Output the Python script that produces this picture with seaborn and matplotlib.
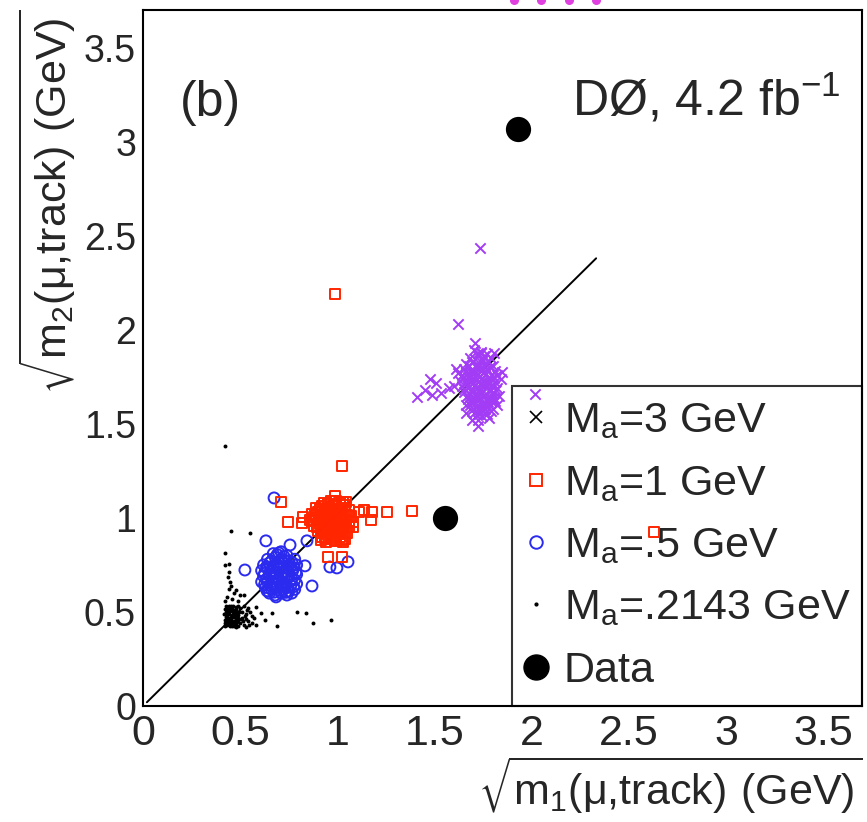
import matplotlib
matplotlib.use("Agg")
import matplotlib.pyplot as plt
import seaborn as sns
from matplotlib.lines import Line2D
from matplotlib.ticker import MultipleLocator

# sqrt(m) pairs per signal sample (GeV)
m3_x = [1.70, 1.74, 1.77, 1.68, 1.72, 1.75, 1.79, 1.66, 1.69, 1.73, 1.76, 1.80,
        1.65, 1.68, 1.71, 1.74, 1.77, 1.81, 1.64, 1.67, 1.70, 1.73, 1.76, 1.79, 1.82,
        1.63, 1.66, 1.69, 1.72, 1.75, 1.78, 1.81, 1.64, 1.67, 1.70, 1.73, 1.76, 1.79, 1.82,
        1.65, 1.68, 1.71, 1.74, 1.77, 1.80, 1.67, 1.70, 1.73, 1.76, 1.79,
        1.68, 1.71, 1.74, 1.77, 1.80, 1.70, 1.73, 1.76, 1.72,
        1.62, 1.84, 1.60, 1.83, 1.66, 1.82, 1.69, 1.78,
        1.72, 1.755, 1.705, 1.735, 1.775, 1.675, 1.715, 1.745, 1.785,
        1.66, 1.695, 1.725, 1.755, 1.795, 1.645, 1.685, 1.715, 1.745, 1.775, 1.805,
        1.655, 1.685, 1.705, 1.735, 1.765, 1.795, 1.65, 1.69, 1.72, 1.75, 1.785, 1.815,
        1.665, 1.695, 1.725, 1.755, 1.79, 1.685, 1.715, 1.745, 1.775, 1.81,
        1.695, 1.725, 1.76, 1.79, 1.715, 1.745, 1.77,
        1.733, 1.620, 1.707, 1.738, 1.805, 1.609, 1.846, 1.476, 1.506, 1.450,
        1.486, 1.409, 1.532, 1.573, 1.661, 1.722, 1.769, 1.805, 1.738, 2.015]
m3_y = [1.89, 1.88, 1.87, 1.85, 1.86, 1.84, 1.85, 1.82, 1.83, 1.81, 1.82, 1.81,
        1.79, 1.78, 1.80, 1.78, 1.79, 1.78, 1.76, 1.75, 1.77, 1.75, 1.76, 1.74, 1.76,
        1.73, 1.72, 1.74, 1.72, 1.73, 1.71, 1.72, 1.70, 1.69, 1.70, 1.68, 1.70, 1.68, 1.69,
        1.67, 1.66, 1.65, 1.66, 1.64, 1.66, 1.63, 1.62, 1.63, 1.61, 1.62,
        1.60, 1.59, 1.58, 1.59, 1.58, 1.56, 1.55, 1.56, 1.52,
        1.77, 1.74, 1.70, 1.65, 1.60, 1.60, 1.52, 1.53,
        1.875, 1.86, 1.845, 1.835, 1.83, 1.81, 1.815, 1.80, 1.80,
        1.775, 1.785, 1.765, 1.775, 1.76, 1.745, 1.755, 1.74, 1.745, 1.73, 1.745,
        1.715, 1.72, 1.705, 1.71, 1.72, 1.705, 1.685, 1.68, 1.69, 1.675, 1.685, 1.68,
        1.65, 1.645, 1.655, 1.65, 1.64, 1.615, 1.62, 1.605, 1.615, 1.62,
        1.58, 1.575, 1.58, 1.57, 1.545, 1.54, 1.55,
        2.436, 2.032, 1.931, 1.878, 1.878, 1.793, 1.777, 1.739, 1.718, 1.681,
        1.654, 1.644, 1.665, 1.691, 1.559, 1.489, 1.628, 1.638, 1.574, 1.660]

m1_x = [0.93, 0.97, 1.01, 1.04, 0.89, 0.92, 0.95, 0.98, 1.02, 1.06,
        0.87, 0.90, 0.93, 0.96, 0.99, 1.03, 1.07, 0.86, 0.89, 0.92, 0.95, 0.98, 1.01, 1.04, 1.08,
        0.88, 0.91, 0.94, 0.97, 1.00, 1.03, 1.06, 0.90, 0.93, 0.96, 0.99, 1.02, 1.05,
        0.92, 0.95, 0.98, 1.01, 1.04, 0.94, 0.99, 1.03,
        0.95, 0.99, 1.03, 0.91, 0.935, 0.965, 1.00, 1.04,
        0.885, 0.915, 0.945, 0.975, 1.01, 1.05, 0.875, 0.905, 0.935, 0.965, 0.995, 1.025, 1.06,
        0.895, 0.925, 0.955, 0.985, 1.015, 1.045, 0.915, 0.945, 0.975, 1.005, 1.035,
        0.935, 0.965, 1.02,
        0.987, 1.023, 0.710, 0.746, 0.823, 0.817, 0.987, 0.992, 1.044, 1.111,
        1.136, 1.177, 1.172, 1.254, 1.383, 1.080, 0.915, 0.951, 1.023, 2.627]
m1_y = [1.08, 1.09, 1.08, 1.07, 1.05, 1.06, 1.05, 1.06, 1.05, 1.04,
        1.02, 1.03, 1.02, 1.03, 1.02, 1.02, 1.01, 0.99, 1.00, 0.99, 1.00, 0.99, 1.00, 0.99, 0.98,
        0.96, 0.97, 0.96, 0.97, 0.96, 0.96, 0.95, 0.93, 0.94, 0.93, 0.94, 0.93, 0.92,
        0.90, 0.91, 0.90, 0.90, 0.89, 0.87, 0.88, 0.87,
        1.075, 1.07, 1.085, 1.045, 1.04, 1.045, 1.04, 1.045,
        1.015, 1.01, 1.015, 1.01, 1.015, 1.015, 0.985, 0.99, 0.985, 0.99, 0.985, 0.99, 0.985,
        0.955, 0.95, 0.955, 0.95, 0.95, 0.955, 0.92, 0.925, 0.92, 0.915, 0.92,
        0.895, 0.89, 0.885,
        2.191, 1.277, 1.085, 0.979, 1.005, 0.973, 1.117, 1.090, 1.085, 1.032,
        1.043, 1.032, 0.989, 1.032, 1.037, 0.952, 0.883, 0.793, 0.793, 0.926]

m05_x = [0.67, 0.71, 0.74, 0.64, 0.68, 0.71, 0.75, 0.78, 0.62, 0.65, 0.69, 0.72, 0.76, 0.79,
         0.61, 0.64, 0.67, 0.70, 0.73, 0.77, 0.79, 0.62, 0.65, 0.68, 0.71, 0.74, 0.78,
         0.61, 0.64, 0.67, 0.70, 0.73, 0.76, 0.79, 0.63, 0.66, 0.69, 0.72, 0.75, 0.78,
         0.65, 0.68, 0.71, 0.74,
         0.69, 0.725, 0.66, 0.695, 0.73, 0.765, 0.635, 0.67, 0.705, 0.745, 0.775,
         0.625, 0.655, 0.685, 0.715, 0.75, 0.785, 0.635, 0.665, 0.695, 0.725, 0.765,
         0.625, 0.655, 0.685, 0.715, 0.745, 0.775, 0.645, 0.675, 0.705, 0.735, 0.765,
         0.674, 0.632, 0.756, 0.843, 0.524, 0.833, 0.869, 0.638, 0.684, 0.735,
         0.961, 0.997, 1.054, 0.699]
m05_y = [0.81, 0.82, 0.80, 0.78, 0.79, 0.78, 0.77, 0.78, 0.75, 0.76, 0.75, 0.76, 0.74, 0.75,
         0.72, 0.73, 0.72, 0.73, 0.71, 0.72, 0.70, 0.69, 0.70, 0.68, 0.69, 0.68, 0.67,
         0.66, 0.66, 0.65, 0.66, 0.65, 0.64, 0.65, 0.63, 0.62, 0.63, 0.62, 0.61, 0.62,
         0.60, 0.59, 0.60, 0.59,
         0.805, 0.795, 0.77, 0.765, 0.775, 0.765, 0.74, 0.745, 0.74, 0.745, 0.735,
         0.705, 0.715, 0.705, 0.71, 0.70, 0.71, 0.675, 0.685, 0.675, 0.68, 0.675,
         0.645, 0.64, 0.645, 0.64, 0.63, 0.635, 0.61, 0.605, 0.615, 0.605, 0.60,
         1.106, 0.878, 0.856, 0.878, 0.723, 0.745, 0.638, 0.612, 0.580, 0.606,
         0.739, 0.734, 0.766, 0.814]

m02_x = [0.420, 0.431, 0.445, 0.457, 0.466, 0.479, 0.488, 0.424, 0.436, 0.449, 0.460, 0.472, 0.483,
         0.421, 0.433, 0.442, 0.455, 0.468, 0.477, 0.489, 0.426, 0.438, 0.451, 0.463, 0.474, 0.486,
         0.419, 0.430, 0.444, 0.456, 0.467, 0.481, 0.490, 0.425, 0.437, 0.448, 0.461, 0.473, 0.484,
         0.422, 0.434, 0.446, 0.458, 0.470, 0.480, 0.428, 0.440, 0.452, 0.465, 0.476, 0.487,
         0.50, 0.51, 0.52, 0.53, 0.50, 0.54, 0.55, 0.52, 0.56, 0.49, 0.46, 0.43, 0.47, 0.44,
         0.50, 0.45, 0.42, 0.57, 0.53, 0.58, 0.48, 0.505, 0.515, 0.525, 0.545, 0.495, 0.535,
         0.42, 0.452, 0.55, 0.42, 0.423, 0.44, 0.44, 0.437, 0.447, 0.478, 0.519, 0.581,
         0.607, 0.663, 0.792, 0.838, 0.874, 0.966, 0.689, 0.627, 0.56, 0.53, 0.51, 0.54]
m02_y = [0.425, 0.428, 0.424, 0.427, 0.423, 0.429, 0.426, 0.441, 0.444, 0.439, 0.443, 0.440, 0.445,
         0.458, 0.455, 0.460, 0.457, 0.454, 0.459, 0.456, 0.472, 0.470, 0.474, 0.471, 0.475, 0.469,
         0.487, 0.485, 0.489, 0.484, 0.488, 0.486, 0.483, 0.501, 0.499, 0.503, 0.500, 0.504, 0.498,
         0.516, 0.514, 0.518, 0.515, 0.513, 0.517, 0.531, 0.529, 0.533, 0.530, 0.528, 0.532,
         0.44, 0.47, 0.43, 0.49, 0.52, 0.45, 0.50, 0.53, 0.44, 0.56, 0.57, 0.58, 0.60, 0.62,
         0.59, 0.64, 0.56, 0.47, 0.42, 0.43, 0.42, 0.46, 0.45, 0.48, 0.43, 0.50, 0.51,
         1.38, 0.931, 0.92, 0.814, 0.75, 0.755, 0.713, 0.686, 0.66, 0.617, 0.59, 0.527,
         0.495, 0.495, 0.50, 0.495, 0.442, 0.457, 0.426, 0.457, 0.48, 0.46, 0.50, 0.52]

data_x = [1.93, 1.553]
data_y = [3.07, 1.00]

# reference diagonal
diag_x = [0.02, 2.33]
diag_y = [0.02, 2.38]

# cut-off marks above the frame
top_x = [1.907, 2.046, 2.190, 2.329]
top_y = [3.755, 3.755, 3.755, 3.755]

labels = [r"M$_\mathdefault{a}$=3 GeV", r"M$_\mathdefault{a}$=1 GeV",
          r"M$_\mathdefault{a}$=.5 GeV", r"M$_\mathdefault{a}$=.2143 GeV", "Data"]

PURPLE = "#a33cf5"
RED = "#ff2600"
BLUE = "#2b2bf0"

sns.set_style("white")
plt.rcParams["font.family"] = ["Liberation Sans", "DejaVu Sans"]

fig = plt.figure(figsize=(8.67, 8.22), dpi=100)
ax = fig.add_axes([143 / 867, 1 - 706 / 822, 719 / 867, 696 / 822])

ax.plot(diag_x, diag_y, color="black", lw=1.4, zorder=2)

sns.scatterplot(x=m02_x, y=m02_y, ax=ax, marker="o", s=8, color="black",
                linewidth=0, legend=False, zorder=3)
sns.scatterplot(x=m05_x, y=m05_y, ax=ax, marker="o", s=62, facecolor="none",
                edgecolor=BLUE, linewidth=1.4, legend=False, zorder=3)
sns.scatterplot(x=m1_x, y=m1_y, ax=ax, marker="s", s=55, facecolor="none",
                edgecolor=RED, linewidth=1.4, legend=False, zorder=3)
sns.scatterplot(x=m3_x, y=m3_y, ax=ax, marker="x", s=55, color=PURPLE,
                linewidth=1.4, legend=False, zorder=3)
sns.scatterplot(x=data_x, y=data_y, ax=ax, marker="o", s=330, color="black",
                linewidth=0, legend=False, zorder=4)
ax.scatter(top_x, top_y, s=30, color="#e040e0", clip_on=False, zorder=4)

ax.set_xlim(0, 3.697)
ax.set_ylim(0, 3.70)
ax.xaxis.set_major_locator(MultipleLocator(0.5))
ax.xaxis.set_minor_locator(MultipleLocator(0.1))
ax.yaxis.set_major_locator(MultipleLocator(0.5))
ax.yaxis.set_minor_locator(MultipleLocator(0.1))
ax.xaxis.set_major_formatter(lambda v, p: f"{v:g}")
ax.yaxis.set_major_formatter(lambda v, p: f"{v:g}")

ax.tick_params(axis="x", which="major", direction="in", length=13, width=1.2,
               labelsize=31, pad=6, top=False)
ax.tick_params(axis="x", which="minor", direction="in", length=6.5, width=1.2, top=False)
ax.tick_params(axis="y", which="major", direction="in", length=9, width=1.2,
               labelsize=27, pad=5, right=False)
ax.tick_params(axis="y", which="minor", direction="in", length=4.5, width=1.2, right=False)
for sp in ax.spines.values():
    sp.set_linewidth(1.5)
    sp.set_color("black")

ax.set_xlabel(r"$\sqrt{\mathdefault{m_1(μ{,}track)\ (GeV)}}$", fontsize=31, loc="right", labelpad=0)
ax.set_ylabel(r"$\sqrt{\mathdefault{m_2(μ{,}track)\ (GeV)}}$", fontsize=31, loc="top", labelpad=4)

ax.text(0.051, 0.848, "(b)", transform=ax.transAxes, fontsize=36, ha="left", va="baseline")
ax.text(0.597, 0.848, r"DØ, 4.2 fb$^{\mathdefault{-1}}$", transform=ax.transAxes, fontsize=36,
        ha="left", va="baseline")

handles = [
    Line2D([], [], marker="x", ls="none", color="black", markersize=8, mew=1.2),
    Line2D([], [], marker="s", ls="none", mfc="none", mec=RED, markersize=9, mew=1.4),
    Line2D([], [], marker="o", ls="none", mfc="none", mec=BLUE, markersize=9, mew=1.4),
    Line2D([], [], marker="o", ls="none", color="black", markersize=2),
    Line2D([], [], marker="o", ls="none", color="black", markersize=18),
]
leg = ax.legend(handles, labels, loc="lower right", bbox_to_anchor=(0.513, 0.0, 0.487, 0.458),
                mode="expand", borderaxespad=0, prop={"family": "Liberation Sans", "size": 31},
                frameon=True, fancybox=False, handlelength=0.4, handletextpad=0.45,
                labelspacing=0.52, borderpad=0.35)
leg.get_frame().set_edgecolor("black")
leg.get_frame().set_linewidth(1.5)
leg.get_frame().set_facecolor("none")
leg.set_zorder(1)

fig.savefig("out.png", dpi=100)
